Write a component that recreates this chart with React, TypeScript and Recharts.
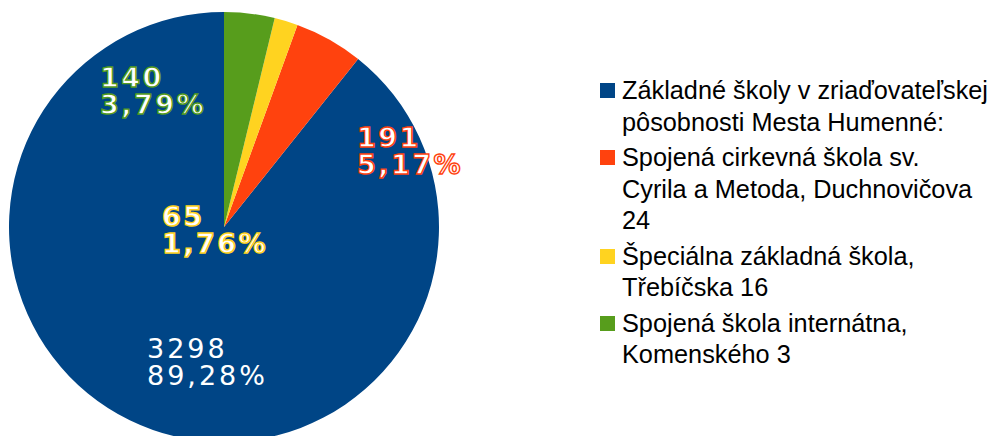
import React from 'react';
import { PieChart, Pie, Cell, Legend } from 'recharts';

const NAMES = [
    'Základné školy v zriaďovateľskej pôsobnosti Mesta Humenné:',
    'Spojená cirkevná škola sv. Cyrila a Metoda, Duchnovičova 24',
    'Špeciálna základná škola, Třebíčska 16',
    'Spojená škola internátna, Komenského 3',
];
const COUNTS = [3298, 191, 65, 140];
const COLORS = ['#004586', '#ff420e', '#ffd320', '#579d1c'];

// label outline colour per slice (blue label has none)
const LABEL_STROKE = ['none', '#ff420e', '#ffd320', '#579d1c'];
// left edge / first baseline of each label block, relative to pie centre
const LABEL_OFFSETS = [[-77, 131], [133, -80], [-62, -1], [-124, -140]];
// words per legend line, as wrapped in the original
const LINE_WORDS = [[4, 3], [4, 4, 1], [3, 2], [3, 2]];

const data = NAMES.map((name, i) => ({ name, value: COUNTS[i] }));

const splitLines = (name: string, counts: number[]) => {
    const words = name.split(' ');
    const lines: string[] = [];
    let k = 0;
    counts.forEach((n) => {
        lines.push(words.slice(k, k + n).join(' '));
        k += n;
    });
    return lines;
};

const renderLabel = (props: any) => {
    const { cx, cy, index, value, percent } = props;
    const [dx, dy] = LABEL_OFFSETS[index];
    const x = cx + dx;
    const y = cy + dy;
    const pct = (percent * 100).toFixed(2).replace('.', ',') + '%';
    const stroke = LABEL_STROKE[index];
    const outlined = stroke !== 'none';
    return (
        <text x={x} y={y} fill="#ffffff" stroke={stroke} strokeWidth={outlined ? 1.4 : 0}
            fontFamily="'DejaVu Sans', sans-serif" fontSize={27} fontWeight={outlined ? 'bold' : 'normal'}
            letterSpacing={outlined ? 2.5 : 3} textAnchor="start">
            <tspan x={x} y={y}>{value}</tspan>
            <tspan x={x} y={y + 27}>{pct}</tspan>
        </text>
    );
};

const renderLegend = () => (
    <div style={{ fontFamily: "'Liberation Sans', Arial, sans-serif", fontSize: 25.3, lineHeight: '31.5px', color: '#000' }}>
        {NAMES.map((name, i) => (
            <div key={name} style={{ display: 'flex', alignItems: 'flex-start', marginBottom: 4 }}>
                <div style={{ width: 15, height: 15, background: COLORS[i], marginTop: 8, marginRight: 7, flex: '0 0 15px' }} />
                <div style={{ whiteSpace: 'nowrap' }}>
                    {splitLines(name, LINE_WORDS[i]).map((line, j) => (
                        <div key={j}>{line}</div>
                    ))}
                </div>
            </div>
        ))}
    </div>
);

export default function App() {
    return (
        <div style={{ position: 'fixed', left: 0, top: 0, width: 995, height: 436, background: '#fff', overflow: 'hidden' }}>
            <PieChart width={995} height={450} margin={{ top: 0, right: 0, bottom: 0, left: 0 }}>
                <Pie data={data} dataKey="value" nameKey="name" cx={224} cy={227} outerRadius={215}
                    startAngle={90} endAngle={450} stroke="none" label={renderLabel} labelLine={false}
                    isAnimationActive={false}>
                    {data.map((_, i) => (
                        <Cell key={i} fill={COLORS[i]} />
                    ))}
                </Pie>
                <Legend content={renderLegend} layout="vertical"
                    wrapperStyle={{ position: 'absolute', left: 600, top: 75, width: 395 }} />
            </PieChart>
        </div>
    );
}
